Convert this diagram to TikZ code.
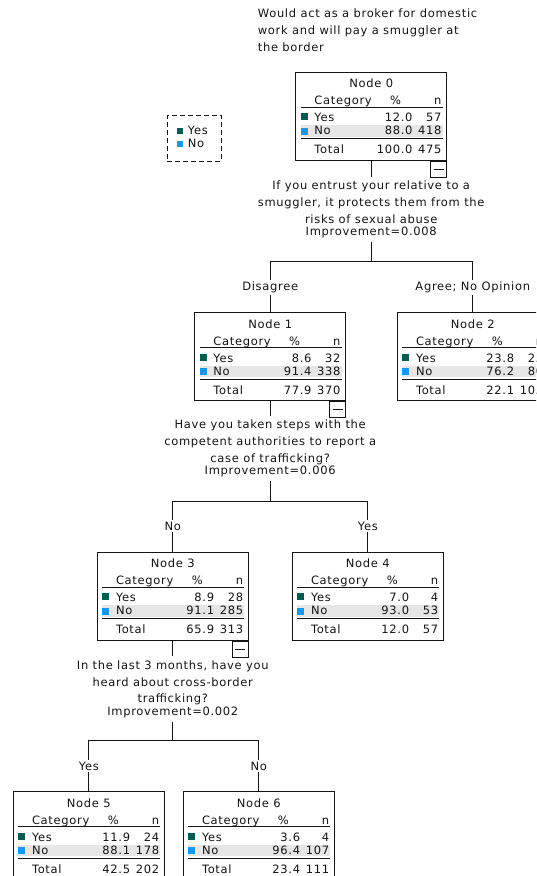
\documentclass[tikz,border=0pt]{standalone}
\usepackage{fontspec}
\setmainfont{DejaVu Sans}[LetterSpace=6]
\definecolor{yescol}{RGB}{0,92,82}
\definecolor{nocol}{RGB}{28,150,232}
\definecolor{bandgray}{RGB}{230,230,230}
\definecolor{inkgray}{RGB}{20,20,20}
\newcommand\ctnode[9]{%
  \begin{scope}[shift={(#2,#3)}]
    \node[nodebox] (n#1) at (75.5,44) {};
    \fill[bandgray] (5,53) rectangle (147,64.5);
    \draw[rowrule] (5,35)--(147,35); \draw[rowrule] (5,66.5)--(147,66.5);
    \node[txt,anchor=base] (n#1t) at (75.5,15.5) {Node #1};
    \node[txt,anchor=base west] (n#1c) at (18.5,32.5) {Category}; \node[txt,anchor=base] (n#1p) at (100,32.5) {\%}; \node[txt,anchor=base east] (n#1n) at (146,32.5) {n};
    \fill[yescol] (5,41) rectangle (12,48); \fill[nocol] (5,55.5) rectangle (12,62.5);
    \node[txt,anchor=base west] (n#1y) at (18.5,49.5) {Yes}; \node[txt,anchor=base east] (n#1yp) at (117,49.5) {#4}; \node[txt,anchor=base east] (n#1yn) at (146,49.5) {#5};
    \node[txt,anchor=base west] (n#1o) at (18.5,62.5) {No}; \node[txt,anchor=base east] (n#1op) at (117,62.5) {#6}; \node[txt,anchor=base east] (n#1on) at (146,62.5) {#7};
    \node[txt,anchor=base west] (n#1s) at (18.5,81.5) {Total}; \node[txt,anchor=base east] (n#1sp) at (117,81.5) {#8}; \node[txt,anchor=base east] (n#1sn) at (146,81.5) {#9};
  \end{scope}}
\newcommand\minusbox[1]{\node[minusbox,anchor=north east] (#1m) at (#1.south east) {\rule{10pt}{0.9pt}};}
\begin{document}
\begin{tikzpicture}[x=1pt,y=-1pt,inkgray,font=\fontsize{11.5}{16.8}\selectfont,
  nodebox/.style={draw,fill=white,line width=0.9pt,minimum width=151pt,minimum height=88pt,inner sep=0pt},
  txt/.style={inner sep=0pt},
  rowrule/.style={line width=0.9pt},
  minusbox/.style={draw,fill=white,line width=0.9pt,minimum size=16pt,inner sep=0pt},
  legbox/.style={draw,dash pattern=on 5pt off 3pt,line width=0.9pt,minimum width=53.7pt,minimum height=46pt},
  question/.style={align=center,inner xsep=0pt,inner ysep=4pt,anchor=north},
  branch/.style={anchor=base,inner sep=1.5pt},
  link/.style={line width=0.9pt}]
\useasboundingbox (0,0) rectangle (536,876);
\clip (0,0) rectangle (536,876);

\node[txt,align=left,anchor=north west] (title) at (257.7,8.6) {Would act as a broker for domestic\\work and will pay a smuggler at\\the border};
\node[legbox] (leg) at (194.2,138) {};
\fill[yescol] (177,127.5) rectangle (183,133.5); \fill[nocol] (177,140.5) rectangle (183,146.5);
\node[txt,anchor=base west] (legy) at (187.7,134.5) {Yes}; \node[txt,anchor=base west] (legn) at (187.7,147.3) {No};

\ctnode{0}{295.7}{72.3}{12.0}{57}{88.0}{418}{100.0}{475}
\ctnode{1}{194.7}{312.7}{8.6}{32}{91.4}{338}{77.9}{370}
\ctnode{2}{397.3}{312.7}{23.8}{25}{76.2}{80}{22.1}{105}
\ctnode{3}{97.3}{552.3}{8.9}{28}{91.1}{285}{65.9}{313}
\ctnode{4}{292.3}{552.3}{7.0}{4}{93.0}{53}{12.0}{57}
\ctnode{5}{13.3}{791.7}{11.9}{24}{88.1}{178}{42.5}{202}
\ctnode{6}{183.3}{791.7}{3.6}{4}{96.4}{107}{23.4}{111}
\minusbox{n0} \minusbox{n1} \minusbox{n3}

\node[question] (q1) at (371.2,176.6) {If you entrust your relative to a\\smuggler, it protects them from the\\risks of sexual abuse\\[-4.2pt]Improvement=0.008};
\node[question] (q2) at (270.2,415.6) {Have you taken steps with the\\competent authorities to report a\\case of trafficking?\\[-4.2pt]Improvement=0.006};
\node[question] (q3) at (172.8,656.3) {In the last 3 months, have you\\heard about cross-border\\trafficking?\\[-4.2pt]Improvement=0.002};

\node[branch] (l1) at (270.2,290.7) {Disagree}; \node[branch] (l2) at (472.8,290.7) {Agree; No Opinion};
\node[branch] (l3) at (172.8,530) {No}; \node[branch] (l4) at (367.8,530) {Yes};
\node[branch] (l5) at (88.8,770) {Yes}; \node[branch] (l6) at (258.8,770) {No};
\coordinate (s1) at (371.2,261); \coordinate (s2) at (270.2,501); \coordinate (s3) at (172.8,740);

\draw[link] (n0.south)--(q1.north); \draw[link] (q1.south)--(s1);
\draw[link] (s1)-|(l1.north); \draw[link] (l1.south)--(n1.north);
\draw[link] (s1)-|(l2.north); \draw[link] (l2.south)--(n2.north);
\draw[link] (n1.south)--(q2.north); \draw[link] (q2.south)--(s2);
\draw[link] (s2)-|(l3.north); \draw[link] (l3.south)--(n3.north);
\draw[link] (s2)-|(l4.north); \draw[link] (l4.south)--(n4.north);
\draw[link] (n3.south)--(q3.north); \draw[link] (q3.south)--(s3);
\draw[link] (s3)-|(l5.north); \draw[link] (l5.south)--(n5.north);
\draw[link] (s3)-|(l6.north); \draw[link] (l6.south)--(n6.north);
\end{tikzpicture}
\end{document}
